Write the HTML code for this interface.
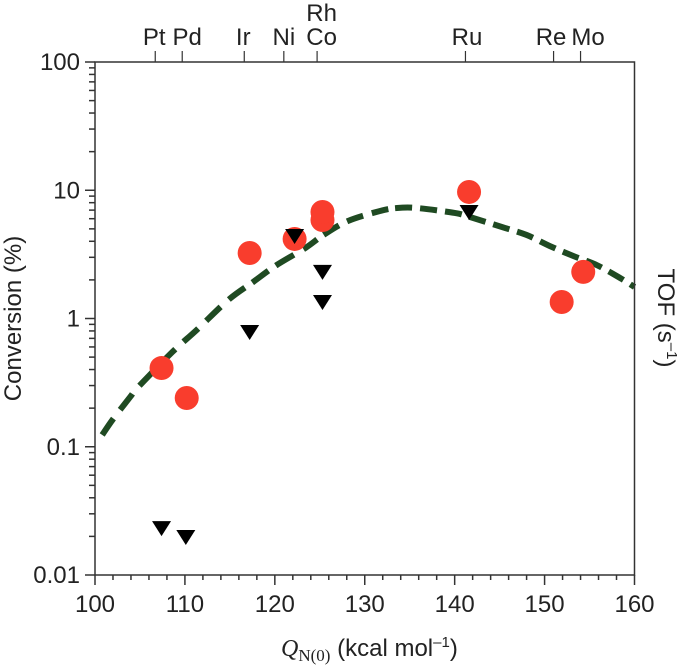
<!DOCTYPE html>
<html lang="en">
<head>
<meta charset="utf-8">
<title>Conversion and TOF versus nitrogen binding energy</title>
<style>
html,body{margin:0;padding:0;background:#fff;}
svg{display:block;}
text{font-family:"Liberation Sans",sans-serif;fill:#222;}
</style>
</head>
<body>
<svg id="chart" xmlns="http://www.w3.org/2000/svg" width="685" height="671" viewBox="0 0 685 671">
<rect x="0" y="0" width="685" height="671" fill="#ffffff"/>
<text transform="translate(21,318.5) rotate(-90)" text-anchor="middle" font-size="24">Conversion (%)</text>
<text transform="translate(658,318) rotate(90)" text-anchor="middle" font-size="24">TOF (s<tspan dy="-9" font-size="15">–1</tspan><tspan dy="9">)</tspan></text>
<text x="281" y="656" font-size="24"><tspan font-family="'Liberation Serif',serif" font-style="italic" font-size="24">Q</tspan><tspan font-family="'Liberation Serif',serif" font-size="17" dy="5">N(0)</tspan><tspan dy="-5"> (kcal mol</tspan><tspan dy="-9" font-size="15">–1</tspan><tspan dy="9">)</tspan></text>
</svg>
<script>
const xTicks = [100, 110, 120, 130, 140, 150, 160];
const yTicks = [100, 10, 1, 0.1, 0.01];
const yTickLabels = ['100', '10', '1', '0.1', '0.01'];
const metals = ['Pt', 'Pd', 'Ir', 'Ni', 'Co', 'Rh', 'Ru', 'Re', 'Mo'];
const metalQ = [106.7, 109.7, 116.6, 121, 124.7, 124.7, 141.2, 151, 154];
const conversionQ = [107.4, 110.2, 117.2, 122.2, 125.3, 125.3, 141.6, 151.9, 154.3];
const conversionValues = [0.411, 0.24, 3.24, 4.17, 5.86, 6.77, 9.7, 1.345, 2.31];
const tofQ = [107.4, 110.1, 117.2, 122.2, 125.3, 125.3, 141.6];
const tofValues = [0.0232, 0.0198, 0.785, 4.4, 2.31, 1.345, 6.77];
const curveQ = [100.8, 102, 103.9, 104.8, 108.6, 111.3, 114.8, 117.6, 120.2, 123.4, 125.4, 128.1, 131.7, 133.6, 135.8, 140, 141.7, 145.3, 148, 150.6, 153.2, 155.8, 158.4, 160];
const curveValues = [0.1236, 0.164, 0.244, 0.292, 0.548, 0.813, 1.39, 1.93, 2.61, 3.55, 4.48, 5.75, 6.89, 7.27, 7.27, 6.65, 6.18, 5.16, 4.48, 3.67, 3.07, 2.61, 2.07, 1.76];

const svg = document.getElementById('chart');
const NS = 'http://www.w3.org/2000/svg';
const plot = {left: 95, right: 634.5, top: 62, bottom: 575};
const xMin = 100, xMax = 160, logMax = 2, logMin = -2;
const axisColor = '#333333';
const topLabelNudge = {Pt: -1, Pd: 5, Ir: -1, Ni: 0, Co: 4.5, Rh: 4.5, Ru: 1.5, Re: -2.5, Mo: 7.5};
const curveDashPattern = '20 11 20 11 20 11 20 11 20 11 20 11 20 9 20 9 21 11 17 8 18 9 17 9 17 7 17 8 17 8 17 8 17 8 17 8 17 8 17 8 17 8 17 8 17 8 17 8 17 8 17 8';

function xScale(v) {
  return plot.left + (v - xMin) / (xMax - xMin) * (plot.right - plot.left);
}
function yScale(v) {
  return plot.top + (logMax - Math.log10(v)) / (logMax - logMin) * (plot.bottom - plot.top);
}
function add(tag, attrs, parent) {
  const el = document.createElementNS(NS, tag);
  Object.keys(attrs).forEach(function (k) { el.setAttribute(k, attrs[k]); });
  (parent || svg).appendChild(el);
  return el;
}
function tickLine(x1, y1, x2, y2, width) {
  const el = add('line', {x1: x1, y1: y1, x2: x2, y2: y2, stroke: axisColor, 'stroke-width': width});
  
  
}

/* curve */
const curvePoints = curveQ.map(function (q, i) { return [xScale(q), yScale(curveValues[i])]; });
let d = 'M' + curvePoints[0][0] + ' ' + curvePoints[0][1];
for (let i = 0; i < curvePoints.length - 1; i++) {
  const p0 = curvePoints[Math.max(0, i - 1)];
  const p1 = curvePoints[i];
  const p2 = curvePoints[i + 1];
  const p3 = curvePoints[Math.min(curvePoints.length - 1, i + 2)];
  d += ' C' + (p1[0] + (p2[0] - p0[0]) / 6) + ' ' + (p1[1] + (p2[1] - p0[1]) / 6) + ' ' +
       (p2[0] - (p3[0] - p1[0]) / 6) + ' ' + (p2[1] - (p3[1] - p1[1]) / 6) + ' ' + p2[0] + ' ' + p2[1];
}
const curve = add('path', {d: d, fill: 'none', stroke: '#1f4a22', 'stroke-width': 6, 'stroke-dasharray': curveDashPattern, 'stroke-linecap': 'butt'});



/* frame */
const frame = add('rect', {x: plot.left, y: plot.top, width: plot.right - plot.left, height: plot.bottom - plot.top, fill: 'none', stroke: axisColor, 'stroke-width': 1.5});



/* x ticks */
for (let v = xMin; v <= xMax; v += 2) {
  tickLine(xScale(v), plot.bottom, xScale(v), plot.bottom + (v % 10 === 0 ? 10 : 5), 1.5);
}
xTicks.forEach(function (v) {
  const t = add('text', {x: xScale(v), y: 612, 'text-anchor': 'middle', 'font-size': 24});
  t.textContent = String(v);
  
  
});

/* y ticks */
yTicks.forEach(function (v, i) {
  tickLine(plot.left - 10, yScale(v), plot.left, yScale(v), 1.5);
  const t = add('text', {x: 80, y: yScale(v) + 8, 'text-anchor': 'end', 'font-size': 24});
  t.textContent = yTickLabels[i];
  
  
  if (v > 0.01) {
    for (let m = 2; m <= 9; m++) {
      const mv = m * v / 10;
      tickLine(plot.left - 6, yScale(mv), plot.left, yScale(mv), 1.5);
    }
  }
});

/* top metal ticks and labels */
metals.forEach(function (name, i) {
  const x = xScale(metalQ[i]);
  if (name !== 'Rh') {
    tickLine(x, plot.top - 11, x, plot.top, 1.2);
  }
  const t = add('text', {x: x + topLabelNudge[name], y: name === 'Rh' ? 21 : 45, 'text-anchor': 'middle', 'font-size': 24});
  t.textContent = name;
  
  
});

/* conversion circles */
conversionQ.forEach(function (q, i) {
  const c = add('circle', {cx: xScale(q), cy: yScale(conversionValues[i]), r: 12, fill: '#f93d2d'});
  
  
});

/* TOF triangles */
tofQ.forEach(function (q, i) {
  const x = xScale(q), y = yScale(tofValues[i]);
  const p = add('polygon', {points: (x - 9.5) + ',' + (y - 7) + ' ' + (x + 9.5) + ',' + (y - 7) + ' ' + x + ',' + (y + 8), fill: '#000000'});
  
  
});
</script>
</body>
</html>
